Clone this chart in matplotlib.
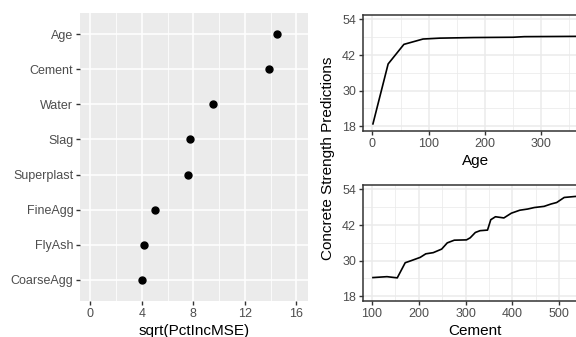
import matplotlib
matplotlib.use("Agg")
import matplotlib.pyplot as plt
from matplotlib.ticker import MultipleLocator, FixedLocator

plt.rcParams["font.family"] = ["Liberation Sans", "DejaVu Sans"]

# Variable importance
variables = ["Age", "Cement", "Water", "Slag", "Superplast", "FineAgg", "FlyAsh", "CoarseAgg"]
importance = [14.5, 13.9, 9.55, 7.75, 7.55, 5.05, 4.2, 4.0]

# Partial dependence: Age
age = [1, 28, 56, 90, 120, 180, 250, 270, 365]
age_pred = [18.8, 39.0, 45.6, 47.4, 47.7, 47.9, 48.0, 48.2, 48.3]

# Partial dependence: Cement
cement = [102, 132, 154, 171, 182, 203, 215, 231, 249, 261, 276, 302, 310, 321,
          331, 347, 354, 364, 382, 398, 416, 433, 447, 468, 483, 495, 511, 532, 540]
cement_pred = [24.3, 24.6, 24.2, 29.3, 29.9, 31.1, 32.3, 32.7, 33.9, 36.0, 36.9, 37.0, 37.7, 39.5,
               40.1, 40.3, 43.8, 44.8, 44.4, 46.0, 47.0, 47.4, 47.9, 48.3, 49.1, 49.6, 51.3, 51.6, 51.7]

W, H = 576, 337
fig = plt.figure(figsize=(W / 100, H / 100), dpi=100)

TICK_GRAY = "#4D4D4D"
DARK = "#333333"


def px_axes(x0, y0, x1, y1):
    return fig.add_axes([x0 / W, 1 - y1 / H, (x1 - x0) / W, (y1 - y0) / H])


# ---- dot chart (theme_grey look) ----
ax = px_axes(80, 13, 308, 301)
ax.set_facecolor("#EBEBEB")
for s in ax.spines.values():
    s.set_visible(False)
ypos = list(range(len(variables), 0, -1))
ax.set_xlim(-0.8, 16.9)
ax.set_ylim(0.4, 8.6)
ax.xaxis.set_major_locator(FixedLocator([0, 4, 8, 12, 16]))
ax.xaxis.set_minor_locator(FixedLocator([2, 6, 10, 14]))
ax.set_yticks(ypos)
ax.set_yticklabels(variables)
ax.grid(which="major", color="white", linewidth=1.1)
ax.grid(which="minor", axis="x", color="white", linewidth=0.55)
ax.set_axisbelow(True)
ax.tick_params(which="major", color=DARK, length=2.75, width=1.0,
               labelsize=9, labelcolor=TICK_GRAY, pad=2)
ax.tick_params(which="minor", length=0)
ax.plot(importance, ypos, "o", color="black", markersize=5, linestyle="none")
ax.set_xlabel("sqrt(PctIncMSE)", fontsize=11, labelpad=3)


# ---- partial dependence panels (theme_bw look) ----
def pd_panel(ax, x, y, xlim, xmaj, xmin, label):
    ax.set_facecolor("white")
    for s in ax.spines.values():
        s.set_color(DARK)
        s.set_linewidth(1.1)
    ax.set_xlim(*xlim)
    ax.set_ylim(16.4, 55.6)
    ax.xaxis.set_major_locator(MultipleLocator(xmaj))
    ax.xaxis.set_minor_locator(MultipleLocator(xmin))
    ax.yaxis.set_major_locator(FixedLocator([18, 30, 42, 54]))
    ax.yaxis.set_minor_locator(FixedLocator([24, 36, 48]))
    ax.grid(which="major", color="#EBEBEB", linewidth=1.1)
    ax.grid(which="minor", color="#EBEBEB", linewidth=0.55)
    ax.set_axisbelow(True)
    ax.tick_params(which="major", color=DARK, length=2.75, width=1.0,
                   labelsize=9, labelcolor=TICK_GRAY, pad=2)
    ax.tick_params(which="minor", length=0)
    ax.plot(x, y, color="black", linewidth=1.2)
    ax.set_xlabel(label, fontsize=11, labelpad=3)


ax_age = px_axes(362.7, 14.7, 588, 131)
pd_panel(ax_age, age, age_pred, (-17.2, 383.2), 100, 50, "Age")

ax_cem = px_axes(362.7, 184.7, 588, 301)
pd_panel(ax_cem, cement, cement_pred, (80.1, 561.9), 100, 50, "Cement")

fig.text(328 / W, 1 - 158 / H, "Concrete Strength Predictions", rotation=90,
         ha="center", va="center", fontsize=11)

fig.savefig("out.png", dpi=100)
